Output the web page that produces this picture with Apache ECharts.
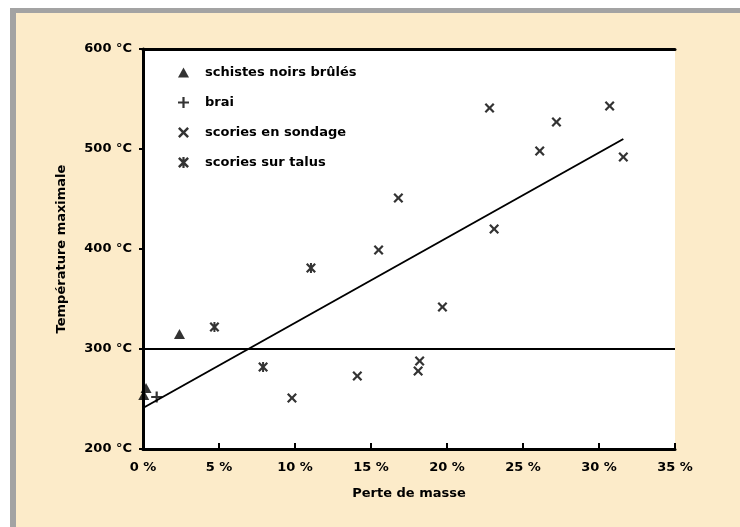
<!DOCTYPE html>
<html>
<head>
<meta charset="utf-8">
<script src="https://cdn.jsdelivr.net/npm/echarts@6/dist/echarts.min.js"></script>
<style>
html,body{margin:0;padding:0;background:#fff;}
#chart{width:740px;height:527px;}
</style>
</head>
<body>
<div id="chart"></div>
<script>
// ---- data ----
const seriesNames = ['schistes noirs brûlés', 'brai', 'scories en sondage', 'scories sur talus'];
const schistesX = [0.2, 0.05, 2.4];
const schistesY = [261, 254, 315];
const braiX = [0.9];
const braiY = [252];
const sondageX = [9.8, 14.1, 15.5, 16.8, 18.1, 18.2, 19.7, 22.8, 23.1, 26.1, 27.2, 30.7, 31.6];
const sondageY = [251, 273, 399, 451, 278, 288, 342, 541, 420, 498, 527, 543, 492];
const talusX = [4.7, 7.9, 11.05];
const talusY = [322, 282, 381];
const trendX = [0, 31.6];
const trendY = [241, 510];
const refLineY = 300;
const xTickValues = [0, 5, 10, 15, 20, 25, 30, 35];
const xTickLabels = ['0 %', '5 %', '10 %', '15 %', '20 %', '25 %', '30 %', '35 %'];
const yTickValues = [200, 300, 400, 500, 600];
const yTickLabels = ['200 °C', '300 °C', '400 °C', '500 °C', '600 °C'];
const xAxisName = 'Perte de masse';
const yAxisName = 'Température maximale';

const zip = (xs, ys) => xs.map((x, i) => [x, ys[i]]);

const FONT = 'DejaVu Sans';
const symPlus = 'path://M4.4,0H6.6V4.4H11V6.6H6.6V11H4.4V6.6H0V4.4H4.4Z';
const symX = 'path://M0,1.6L1.6,0L5,3.4L8.4,0L10,1.6L6.6,5L10,8.4L8.4,10L5,6.6L1.6,10L0,8.4L3.4,5Z';
const symAst = 'path://M0,1.6L1.6,0L5,3.4L8.4,0L10,1.6L6.6,5L10,8.4L8.4,10L5,6.6L1.6,10L0,8.4L3.4,5ZM4,0H6V10H4Z';
const symTri = 'path://M5,0L10,9H0Z';

const chart = echarts.init(document.getElementById('chart'), null, {renderer: 'canvas'});
const axisText = {color: '#000', fontFamily: FONT, fontWeight: 'bold', fontSize: 13};
const option = {
  backgroundColor: '#FCEBC9',
  animation: false,
  graphic: [
    {type: 'rect', shape: {x: 0, y: 0, width: 740, height: 8}, style: {fill: '#fff'}, silent: true},
    {type: 'rect', shape: {x: 0, y: 0, width: 10, height: 527}, style: {fill: '#fff'}, silent: true},
    {type: 'rect', shape: {x: 10, y: 8, width: 730, height: 5}, style: {fill: '#A3A3A3'}, silent: true},
    {type: 'rect', shape: {x: 10, y: 8, width: 6, height: 519}, style: {fill: '#A3A3A3'}, silent: true}
  ],
  grid: {left: 143, right: 65, top: 49, bottom: 78, show: true, backgroundColor: '#fff', borderWidth: 0},
  legend: {
    orient: 'vertical', left: 173, top: 61,
    itemWidth: 11, itemHeight: 11, itemGap: 17,
    textStyle: {color: '#000', fontFamily: FONT, fontWeight: 'bold', fontSize: 13, padding: [0, 0, 0, 11]},
    data: seriesNames.map(n => ({name: n}))
  },
  xAxis: [{
    type: 'value', min: 0, max: 35, interval: 5,
    name: xAxisName, nameLocation: 'middle', nameGap: 38, nameTextStyle: axisText,
    axisLine: {lineStyle: {color: '#000', width: 3}},
    axisTick: {inside: true, length: 6, lineStyle: {color: '#000', width: 2}},
    axisLabel: Object.assign({margin: 12, formatter: v => xTickLabels[xTickValues.indexOf(v)]}, axisText),
    splitLine: {show: false}
  }, {
    type: 'value', position: 'top', min: 0, max: 35, interval: 5,
    axisLine: {show: true, lineStyle: {color: '#000', width: 3}},
    axisTick: {show: false}, axisLabel: {show: false}, splitLine: {show: false}
  }],
  yAxis: [{
    type: 'value', min: 200, max: 600, interval: 100,
    name: yAxisName, nameLocation: 'middle', nameGap: 75, nameRotate: 90, nameTextStyle: axisText,
    axisLine: {show: true, lineStyle: {color: '#000', width: 2}},
    axisTick: {show: true, inside: false, length: 4, lineStyle: {color: '#000', width: 2}},
    axisLabel: Object.assign({margin: 11, formatter: v => yTickLabels[yTickValues.indexOf(v)]}, axisText),
    splitLine: {show: false}
  }, {
    type: 'value', position: 'right', min: 200, max: 600, interval: 100,
    axisLine: {show: true, lineStyle: {color: '#000', width: 3}},
    axisTick: {show: false}, axisLabel: {show: false}, splitLine: {show: false}
  }],
  series: [
    {name: seriesNames[0], type: 'scatter', symbol: symTri, symbolSize: [11, 10], itemStyle: {color: '#000'}, data: zip(schistesX, schistesY), z: 5},
    {name: seriesNames[1], type: 'scatter', symbol: symPlus, symbolSize: 11, itemStyle: {color: '#000'}, data: zip(braiX, braiY), z: 5},
    {name: seriesNames[2], type: 'scatter', symbol: symX, symbolSize: 10, itemStyle: {color: '#000'}, data: zip(sondageX, sondageY), z: 5},
    {name: seriesNames[3], type: 'scatter', symbol: symAst, symbolSize: 10, itemStyle: {color: '#000'}, data: zip(talusX, talusY), z: 5},
    {
      name: 'tendance', type: 'line', data: zip(trendX, trendY), symbol: 'none',
      lineStyle: {color: '#000', width: 2}, z: 3,
      markLine: {silent: true, symbol: 'none', label: {show: false},
        lineStyle: {color: '#000', width: 2, type: 'solid'}, data: [{yAxis: refLineY}]}
    }
  ]
};
chart.setOption(option);
</script>
</body>
</html>
